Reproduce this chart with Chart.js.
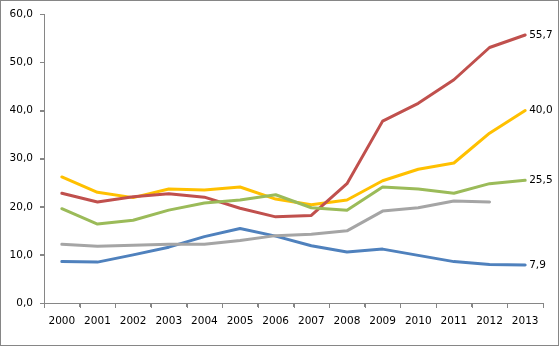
<!DOCTYPE html>
<html>
<head>
<meta charset="utf-8">
<script src="https://cdn.jsdelivr.net/npm/chart.js@4.4.1/dist/chart.umd.min.js"></script>
<style>
  html, body { margin: 0; padding: 0; background: #fff; }
  #wrap { width: 559px; height: 346px; box-sizing: border-box; border: 1px solid #868686; position: relative; }
  #c { display: block; }
</style>
</head>
<body>
<div id="wrap"><canvas id="c" width="557" height="344"></canvas></div>
<script>
// Years on the category axis
const years = ['2000','2001','2002','2003','2004','2005','2006','2007','2008','2009','2010','2011','2012','2013'];

// Series values (null = no data)
const blueSeries   = [8.6, 8.5, 10.0, 11.6, 13.8, 15.5, 13.9, 11.9, 10.6, 11.2, 9.9, 8.6, 8.0, 7.9];
const redSeries    = [22.8, 21.0, 22.1, 22.7, 22.0, 19.7, 17.9, 18.2, 24.8, 37.8, 41.5, 46.4, 53.1, 55.7];
const greenSeries  = [19.6, 16.4, 17.2, 19.3, 20.8, 21.4, 22.5, 19.8, 19.3, 24.1, 23.7, 22.8, 24.8, 25.5];
const yellowSeries = [26.2, 23.0, 21.9, 23.7, 23.5, 24.1, 21.6, 20.4, 21.4, 25.4, 27.8, 29.1, 35.3, 40.0];
const graySeries   = [12.2, 11.8, 12.0, 12.2, 12.2, 13.0, 14.0, 14.3, 15.0, 19.1, 19.8, 21.2, 21.0, null];

// Value-axis ticks
const yTicks = [0, 10, 20, 30, 40, 50, 60];

const fmt = v => v.toFixed(1).replace('.', ',');
const FONT = { family: 'DejaVu Sans', size: 10.5 };
const AXIS = '#868686';
const TICK_LEN = 4;

// Axis lines with outside tick marks, placed through the chart's scales
const axisLines = {
  id: 'axisLines',
  beforeDatasetsDraw(chart) {
    const { ctx, chartArea: a, scales: { x, y } } = chart;
    const left = Math.round(a.left), bottom = Math.round(a.bottom);
    const top = Math.round(a.top), right = Math.round(a.right);
    ctx.save();
    ctx.fillStyle = AXIS;
    // value axis
    ctx.fillRect(left, top, 1, bottom - top + 1);
    yTicks.forEach(v => {
      const py = Math.round(y.getPixelForValue(v));
      ctx.fillRect(left - TICK_LEN, py, TICK_LEN, 1);
    });
    // category axis, tick marks between categories
    ctx.fillRect(left, bottom, right - left + 1, 1);
    for (let i = 0; i <= years.length; i++) {
      const px = Math.round(x.getPixelForValue(i - 0.5));
      ctx.fillRect(px, bottom, 1, TICK_LEN + 1);
    }
    ctx.restore();
  }
};

// Writes the last value at the end of each labelled line
const endLabels = {
  id: 'endLabels',
  afterDatasetsDraw(chart) {
    const ctx = chart.ctx;
    ctx.save();
    ctx.font = '10.5px "DejaVu Sans"';
    ctx.fillStyle = '#000';
    ctx.textBaseline = 'middle';
    ctx.textAlign = 'left';
    chart.data.datasets.forEach((ds, i) => {
      if (!ds.endLabel) return;
      const meta = chart.getDatasetMeta(i);
      let idx = ds.data.length - 1;
      while (idx >= 0 && ds.data[idx] == null) idx--;
      const pt = meta.data[idx];
      ctx.fillText(fmt(ds.data[idx]), pt.x + 4, pt.y);
    });
    ctx.restore();
  }
};

const mk = (data, color, endLabel) => ({
  data, borderColor: color, backgroundColor: color,
  borderWidth: 3, pointRadius: 0, tension: 0, fill: false,
  spanGaps: false, endLabel, borderJoinStyle: 'round', borderCapStyle: 'round'
});

new Chart(document.getElementById('c'), {
  type: 'line',
  data: {
    labels: years,
    datasets: [
      mk(graySeries, '#A5A5A5', false),
      mk(blueSeries, '#4F81BD', true),
      mk(greenSeries, '#9BBB59', true),
      mk(redSeries, '#C0504D', true),
      mk(yellowSeries, '#FFC000', true)
    ]
  },
  options: {
    responsive: false,
    animation: false,
    devicePixelRatio: 1,
    layout: { padding: { top: 13, right: 15, left: 0, bottom: 0 } },
    plugins: { legend: { display: false }, tooltip: { enabled: false } },
    scales: {
      x: {
        offset: true,
        grid: { display: true, offset: true, drawOnChartArea: false, drawTicks: true, tickLength: TICK_LEN, color: AXIS },
        border: { display: true, color: AXIS, width: 1 },
        ticks: { font: FONT, color: '#000', padding: 8, maxRotation: 0, autoSkip: false },
        afterFit(s) { s.height = 42; }
      },
      y: {
        min: 0, max: 60,
        afterBuildTicks(s) { s.ticks = yTicks.map(v => ({ value: v })); },
        grid: { display: true, drawOnChartArea: false, drawTicks: true, tickLength: TICK_LEN, color: AXIS },
        border: { display: true, color: AXIS, width: 1 },
        ticks: { font: FONT, color: '#000', padding: 7, callback: v => fmt(v) },
        afterFit(s) { s.width = 43; }
      }
    }
  },
  plugins: [axisLines, endLabels]
});
</script>
</body>
</html>
